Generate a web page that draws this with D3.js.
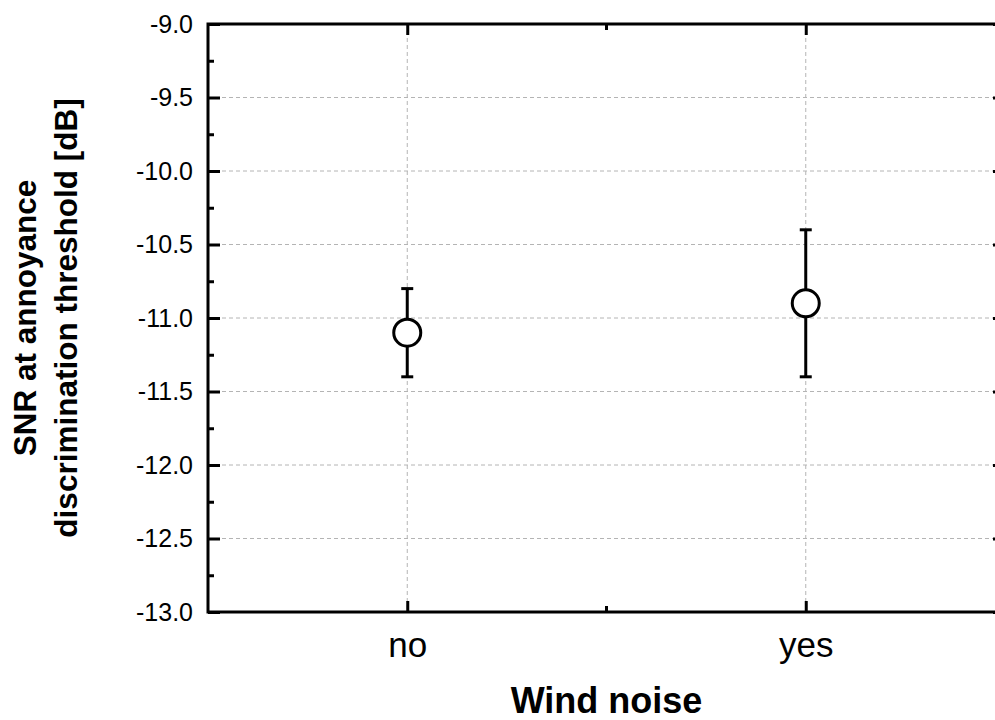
<html>
<head>
<script src="https://cdn.jsdelivr.net/npm/d3@7"></script>
<style>
  body { margin: 0; background: #fff; font-family: "Liberation Sans", Arial, Helvetica, sans-serif; }
</style>
</head>
<body>
<svg id="chart"></svg>
<script>
// data
let categories = ["no", "yes"];
let means = [-11.1, -10.9];
let upper = [-10.8, -10.4];
let lower = [-11.4, -11.4];

let yMajor = [-13.0, -12.5, -12.0, -11.5, -11.0, -10.5, -10.0, -9.5, -9.0];
let yTickLabels = ["-13.0", "-12.5", "-12.0", "-11.5", "-11.0", "-10.5", "-10.0", "-9.5", "-9.0"];
let yMinor = [-12.75, -12.25, -11.75, -11.25, -10.75, -10.25, -9.75, -9.25];
let yGrid = [-12.5, -12.0, -11.5, -11.0, -10.5, -10.0, -9.5];

let xTitle = "Wind noise";
let yTitle = ["SNR at annoyance", "discrimination threshold [dB]"];

let width = 995, height = 720;
let margin = { top: 24, left: 208, bottom: 108, right: -10 };
let plotRight = width - margin.right;
let plotBottom = height - margin.bottom;

let svg = d3.select("#chart").attr("width", width).attr("height", height);

let x = d3.scalePoint().domain(categories).range([margin.left, plotRight]).padding(0.5);
let y = d3.scaleLinear().domain([-13, -9]).range([plotBottom, margin.top]);
let xMid = (x(categories[0]) + x(categories[1])) / 2;

// grid
let grid = svg.append("g").attr("stroke", "#b4b4b4").attr("stroke-width", 1).attr("stroke-dasharray", "4,3");
grid.selectAll(".hg").data(yGrid).enter().append("line")
  .attr("x1", margin.left).attr("x2", plotRight)
  .attr("y1", d => y(d)).attr("y2", d => y(d));
grid.selectAll(".vg").data(categories).enter().append("line")
  .attr("x1", d => x(d)).attr("x2", d => x(d))
  .attr("y1", margin.top).attr("y2", plotBottom);

// axes: ticks point inward
function styleAxis(g) {
  g.select(".domain").remove();
  g.selectAll(".tick line").attr("stroke", "#000").attr("stroke-width", 3);
}

svg.append("g").attr("transform", `translate(${margin.left},0)`)
  .call(d3.axisLeft(y).tickValues(yMajor).tickSize(-12).tickPadding(15)
    .tickFormat((d, i) => yTickLabels[i]))
  .call(styleAxis)
  .call(g => g.selectAll("text").attr("font-size", 25).attr("fill", "#000")
    .attr("font-family", "'Liberation Sans', Arial, sans-serif"));
svg.append("g").attr("transform", `translate(${margin.left},0)`)
  .call(d3.axisLeft(y).tickValues(yMinor).tickSize(-6).tickFormat(""))
  .call(styleAxis);
svg.append("g").attr("transform", `translate(${plotRight},0)`)
  .call(d3.axisRight(y).tickValues(yMajor).tickSize(-12).tickFormat(""))
  .call(styleAxis);
svg.append("g").attr("transform", `translate(${plotRight},0)`)
  .call(d3.axisRight(y).tickValues(yMinor).tickSize(-6).tickFormat(""))
  .call(styleAxis);

svg.append("g").attr("transform", `translate(0,${plotBottom})`)
  .call(d3.axisBottom(x).tickSize(-11).tickPadding(20))
  .call(styleAxis)
  .call(g => g.selectAll("text").attr("font-size", 35).attr("fill", "#000")
    .attr("font-family", "'Liberation Sans', Arial, sans-serif"));
svg.append("g").attr("transform", `translate(0,${margin.top})`)
  .call(d3.axisTop(x).tickSize(-11).tickFormat(""))
  .call(styleAxis);

// short mid ticks between categories
[[plotBottom, -6], [margin.top, 6]].forEach(([yy, len]) => {
  svg.append("line").attr("x1", xMid).attr("x2", xMid)
    .attr("y1", yy).attr("y2", yy + len)
    .attr("stroke", "#000").attr("stroke-width", 3);
});

// frame
svg.append("rect")
  .attr("x", margin.left).attr("y", margin.top)
  .attr("width", plotRight - margin.left).attr("height", plotBottom - margin.top)
  .attr("fill", "none").attr("stroke", "#000").attr("stroke-width", 3);

// error bars
let pts = categories.map((c, i) => ({ c, m: means[i], hi: upper[i], lo: lower[i] }));
let eb = svg.append("g").attr("stroke", "#000").attr("stroke-width", 3);
eb.selectAll(".bar").data(pts).enter().append("line")
  .attr("x1", d => x(d.c)).attr("x2", d => x(d.c))
  .attr("y1", d => y(d.hi)).attr("y2", d => y(d.lo));
eb.selectAll(".capHi").data(pts).enter().append("line")
  .attr("x1", d => x(d.c) - 6).attr("x2", d => x(d.c) + 6)
  .attr("y1", d => y(d.hi)).attr("y2", d => y(d.hi));
eb.selectAll(".capLo").data(pts).enter().append("line")
  .attr("x1", d => x(d.c) - 6).attr("x2", d => x(d.c) + 6)
  .attr("y1", d => y(d.lo)).attr("y2", d => y(d.lo));

svg.selectAll(".pt").data(pts).enter().append("circle")
  .attr("cx", d => x(d.c)).attr("cy", d => y(d.m)).attr("r", 13.5)
  .attr("fill", "#fff").attr("stroke", "#000").attr("stroke-width", 3);

// titles
svg.append("text")
  .attr("x", xMid).attr("y", 713)
  .attr("text-anchor", "middle").attr("font-size", 36).attr("font-weight", "bold")
  .text(xTitle);

let yMidPix = (margin.top + plotBottom) / 2;
yTitle.forEach((t, i) => {
  svg.append("text")
    .attr("transform", `translate(${36 + i * 41},${yMidPix}) rotate(-90)`)
    .attr("text-anchor", "middle").attr("font-size", 31.5).attr("font-weight", "bold")
    .text(t);
});
</script>
</body>
</html>
